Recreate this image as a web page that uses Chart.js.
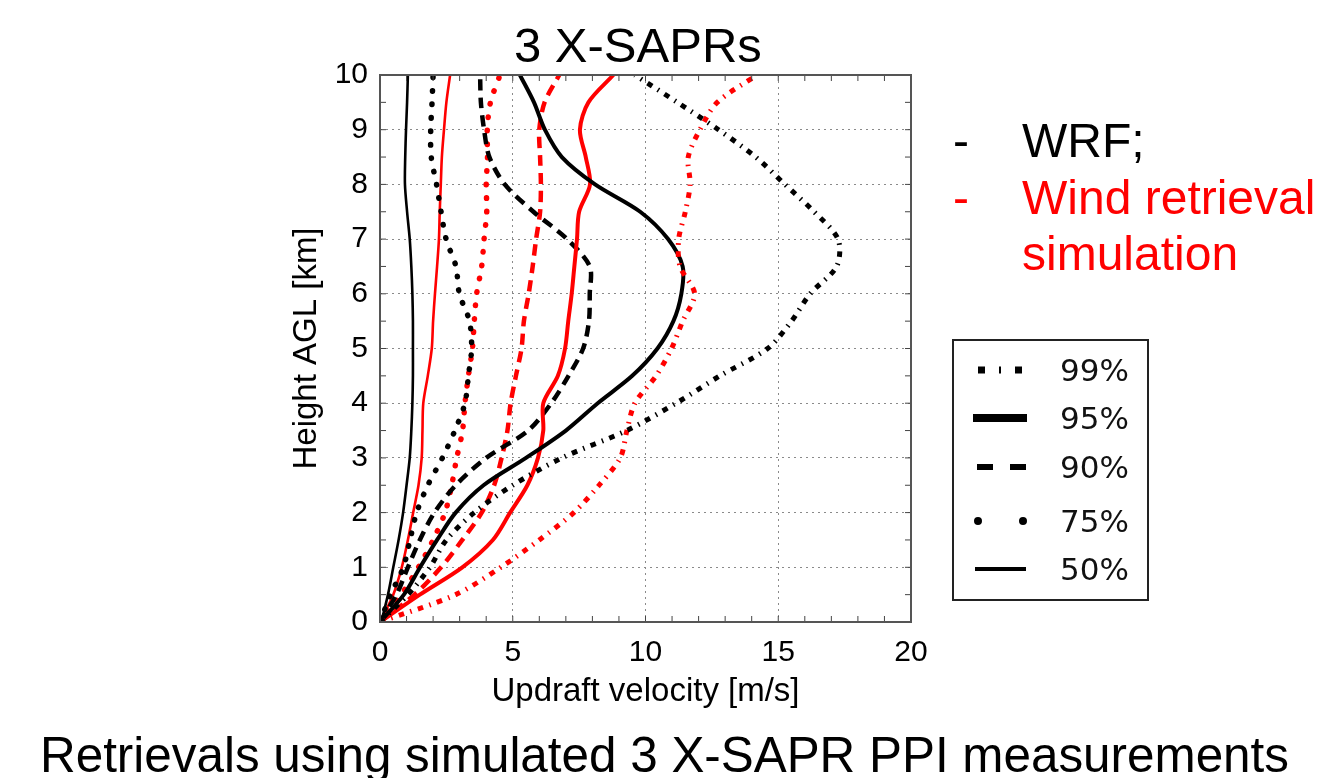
<!DOCTYPE html>
<html>
<head>
<meta charset="utf-8">
<script src="https://cdn.jsdelivr.net/npm/chart.js@4.4.1/dist/chart.umd.min.js"></script>
<style>
  body { margin: 0; background: #fff; }
  #wrap { position: relative; width: 1321px; height: 778px; overflow: hidden; }
  .txt { position: absolute; font-family: "Liberation Sans", Arial, sans-serif; line-height: 1; white-space: nowrap; }
</style>
</head>
<body>
<div id="wrap">
  <canvas id="profileChart"></canvas>
  <div class="txt" style="left:514px; top:21px; font-size:49px;">3 X-SAPRs</div>
  <div class="txt" style="left:953px; top:117px; font-size:48px;">-</div>
  <div class="txt" style="left:1022px; top:117px; font-size:48px;">WRF;</div>
  <div class="txt" style="left:953px; top:174px; font-size:48px; color:#f00;">-</div>
  <div class="txt" style="left:1022px; top:174px; font-size:48px; color:#f00;">Wind retrieval</div>
  <div class="txt" style="left:1022px; top:230px; font-size:48px; color:#f00;">simulation</div>
  <div class="txt" style="left:40px; top:730px; font-size:49.4px;">Retrievals using simulated 3 X-SAPR PPI measurements</div>
</div>
<script>
// heights (km) shared by all profiles
const heights = [0, 0.5, 1, 1.5, 2, 2.5, 3, 3.5, 4, 4.5, 5, 5.5, 6, 6.5, 7, 7.5, 8, 8.5, 9, 9.5, 10];

// updraft velocity percentiles (m/s), WRF = black, retrieval = red
const wrf50 = [0.05, 0.3, 0.5, 0.7, 0.87, 1.0, 1.12, 1.18, 1.22, 1.24, 1.24, 1.24, 1.22, 1.18, 1.12, 1.02, 0.94, 0.95, 0.98, 1.02, 1.05];
const ret50 = [0, 0.5, 0.82, 1.05, 1.25, 1.45, 1.57, 1.6, 1.63, 1.8, 1.95, 2.0, 2.07, 2.15, 2.22, 2.25, 2.29, 2.33, 2.41, 2.5, 2.64];
const wrf75 = [0, 0.4, 0.88, 1.13, 1.38, 1.8, 2.35, 2.82, 3.2, 3.33, 3.45, 3.37, 2.99, 2.86, 2.49, 2.3, 2.13, 1.93, 1.91, 1.96, 2.0];
const ret75 = [0, 0.8, 1.45, 2.0, 2.45, 2.7, 2.89, 3.11, 3.2, 3.33, 3.48, 3.55, 3.64, 3.83, 3.92, 4.02, 4.0, 4.05, 4.04, 4.16, 4.52];
const wrf90 = [0, 0.62, 1.05, 1.5, 2.05, 2.85, 4.0, 5.58, 6.45, 7.1, 7.65, 7.87, 7.9, 7.9, 7.05, 5.78, 4.7, 4.12, 3.92, 3.8, 3.77];
const ret90 = [0, 1.3, 2.3, 3.1, 3.83, 4.3, 4.58, 4.8, 4.92, 5.12, 5.33, 5.42, 5.6, 5.75, 5.88, 6.03, 6.06, 6.03, 6.0, 6.2, 6.75];
const wrf95 = [0, 0.9, 1.51, 2.15, 2.85, 3.9, 5.5, 7.0, 8.2, 9.5, 10.45, 11.05, 11.35, 11.4, 10.85, 9.8, 8.1, 6.85, 6.21, 5.8, 5.27];
const ret95 = [0, 1.5, 3.1, 4.25, 4.9, 5.55, 5.95, 6.15, 6.15, 6.7, 6.97, 7.09, 7.22, 7.32, 7.42, 7.5, 7.91, 7.75, 7.53, 7.85, 8.79];
const wrf99 = [0, 1.05, 1.88, 2.5, 3.55, 5.0, 6.85, 9.29, 11.15, 12.8, 14.6, 15.5, 16.2, 17.2, 17.25, 16.35, 15.25, 14.15, 12.75, 11.2, 9.6];
const ret99 = [0, 2.85, 4.55, 6.0, 7.3, 8.25, 9.05, 9.3, 9.6, 10.4, 10.98, 11.4, 11.85, 11.3, 11.25, 11.5, 11.68, 11.61, 12.05, 12.7, 14.2];

const percentiles = ['99%', '95%', '90%', '75%', '50%'];
const xTicks = [0, 5, 10, 15, 20];
const yTicks = [0, 1, 2, 3, 4, 5, 6, 7, 8, 9, 10];

// line look for each percentile
const styles = {
    '99%': { width: 5, dash: [5.5, 6.5, 1.5, 6.5], cap: 'butt' },
    '95%': { width: 4, dash: [], cap: 'butt' },
    '90%': { width: 4.5, dash: [11, 7], cap: 'butt' },
    '75%': { width: 5.5, dash: [0.5, 13], cap: 'round' },
    '50%': { width: 2.6, dash: [], cap: 'butt' }
};

const series = {
    '99%': [wrf99, ret99],
    '95%': [wrf95, ret95],
    '90%': [wrf90, ret90],
    '75%': [wrf75, ret75],
    '50%': [wrf50, ret50]
};

function toPoints(vals) {
    return vals.map((v, i) => ({ x: v, y: heights[i] }));
}

const datasets = [];
percentiles.forEach(p => {
    const s = styles[p];
    ['#000000', '#ff0000'].forEach((col, k) => {
        datasets.push({
            label: (k === 0 ? 'WRF ' : 'Retrieval ') + p,
            data: toPoints(series[p][k]),
            showLine: true,
            borderColor: col,
            backgroundColor: col,
            borderWidth: s.width,
            borderDash: s.dash,
            borderCapStyle: s.cap,
            borderJoinStyle: 'round',
            pointRadius: 0,
            tension: 0.3,
            fill: false
        });
    });
});

// box, inner ticks and the hand drawn legend
const frame = {
    id: 'frame',
    afterDraw(chart) {
        const c = chart.ctx;
        const a = chart.chartArea;
        const xs = chart.scales.x, ys = chart.scales.y;
        c.save();
        c.strokeStyle = '#444';
        c.lineWidth = 1;
        for (let v = 0; v <= 20; v++) {
            const px = xs.getPixelForValue(v);
            c.beginPath();
            c.moveTo(px, a.bottom); c.lineTo(px, a.bottom - 6);
            c.moveTo(px, a.top); c.lineTo(px, a.top + 6);
            c.stroke();
        }
        for (let h = 0; h <= 10; h += 0.5) {
            const py = ys.getPixelForValue(h);
            c.beginPath();
            c.moveTo(a.left, py); c.lineTo(a.left + 6, py);
            c.moveTo(a.right, py); c.lineTo(a.right - 6, py);
            c.stroke();
        }
        c.strokeStyle = '#555';
        c.lineWidth = 2;
        c.strokeRect(a.left, a.top, a.right - a.left, a.bottom - a.top);

        // legend
        c.strokeStyle = '#222';
        c.lineWidth = 2;
        c.strokeRect(953, 340, 195, 260);
        const rowY = [370, 418, 467, 521, 569];
        const legendDash = {
            '99%': { w: 7, dash: [7, 14, 2, 14], x0: 978, x1: 1023, cap: 'butt' },
            '95%': { w: 8, dash: [], x0: 973, x1: 1027, cap: 'butt' },
            '90%': { w: 6, dash: [16, 17], x0: 977, x1: 1026, cap: 'butt' },
            '75%': { w: 8, dash: [0, 45], x0: 978, x1: 1024, cap: 'round' },
            '50%': { w: 4, dash: [], x0: 975, x1: 1026, cap: 'butt' }
        };
        c.fillStyle = '#111';
        c.font = '31px "DejaVu Sans"';
        c.textBaseline = 'alphabetic';
        percentiles.forEach((p, i) => {
            const d = legendDash[p];
            c.save();
            c.strokeStyle = '#000';
            c.lineWidth = d.w;
            c.lineCap = d.cap;
            c.setLineDash(d.dash);
            c.beginPath();
            c.moveTo(d.x0, rowY[i]);
            c.lineTo(d.x1, rowY[i]);
            c.stroke();
            c.restore();
            c.fillText(p, 1060, rowY[i] + 11);
        });
        c.restore();
    }
};

const ctx = document.getElementById('profileChart').getContext('2d');

const profileChart = new Chart(ctx, {
    type: 'scatter',
    data: { datasets: datasets },
    options: {
        responsive: true,
        maintainAspectRatio: false,
        animation: false,
        layout: { padding: { left: 284, right: 410, top: 75, bottom: 56 } },
        plugins: {
            legend: { display: false },
            title: { display: false },
            tooltip: { enabled: false }
        },
        scales: {
            x: {
                type: 'linear',
                min: 0,
                max: 20,
                afterFit: s => { s.height = 100; },
                afterBuildTicks: s => { s.ticks = xTicks.map(v => ({ value: v })); },
                ticks: { color: '#000', font: { family: '"Liberation Sans", Arial', size: 30 }, padding: 13, maxRotation: 0 },
                grid: { color: '#8a8a8a', lineWidth: 1, drawTicks: false },
                border: { display: false, dash: [2, 4] },
                title: {
                    display: true,
                    text: 'Updraft velocity [m/s]',
                    color: '#000',
                    font: { family: '"Liberation Sans", Arial', size: 33 },
                    padding: { top: 0, bottom: 10 }
                }
            },
            y: {
                type: 'linear',
                min: 0,
                max: 10,
                afterFit: s => { s.width = 96; },
                afterBuildTicks: s => { s.ticks = yTicks.map(v => ({ value: v })); },
                ticks: { color: '#000', font: { family: '"Liberation Sans", Arial', size: 30 }, padding: 12 },
                grid: { color: '#8a8a8a', lineWidth: 1, drawTicks: false },
                border: { display: false, dash: [2, 4] },
                title: {
                    display: true,
                    text: 'Height AGL [km]',
                    color: '#000',
                    font: { family: '"Liberation Sans", Arial', size: 33 },
                    padding: { top: 3, bottom: 0 }
                }
            }
        }
    },
    plugins: [frame]
});
</script>
</body>
</html>
